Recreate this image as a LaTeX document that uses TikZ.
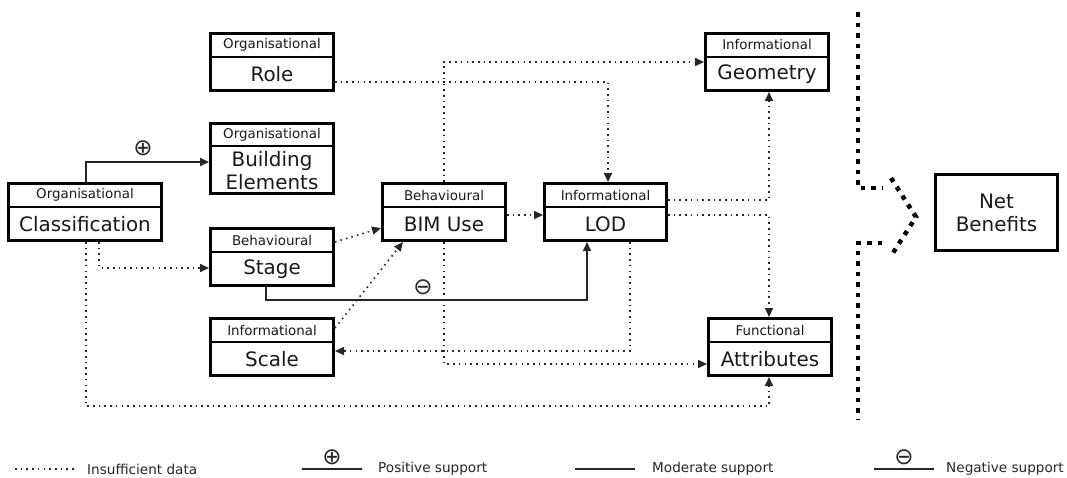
\documentclass[tikz,border=0pt]{standalone}
\usepackage{fontspec}
\setmainfont{DejaVu Sans}
\usetikzlibrary{arrows.meta}
\tikzset{
  boxst/.style={draw, line width=3.2pt, inner sep=0pt, rectangle},
  divst/.style={line width=1.7pt},
  hdr/.style={font=\fontsize{13.4}{14}\selectfont, inner sep=0pt, text=black!90},
  mn/.style={font=\fontsize{19.9}{22}\selectfont, inner sep=0pt, text=black!90, align=center},
  dotline/.style={line width=1.6pt, dash pattern=on 1.6pt off 4.1pt, black!85},
  dotarr/.style={dotline, -{Triangle[length=9pt,width=8pt]}},
  solidline/.style={line width=1.6pt, black!85},
  solidarr/.style={solidline, -{Triangle[length=9pt,width=8pt]}},
  sepline/.style={line width=4.5pt, dash pattern=on 4.5pt off 6pt},
  sym/.style={font=\fontsize{23}{23}\selectfont, inner sep=0pt, text=black!85},
  leg/.style={font=\fontsize{13.6}{14}\selectfont, inner sep=0pt, anchor=west, text=black!85},
}
\newcommand{\mybox}[8]{%
  \node[boxst, minimum width={#4-#2-3.2}, minimum height={#5-#3-3.2}] (#1) at ({(#2+#4)/2},{(#3+#5)/2}) {};
  \draw[divst] (#2+1.5,#6) -- (#4-1.5,#6);
  \node[hdr] (#1h) at ({(#2+#4)/2},{(#3+#6)/2+0.5}) {#7};
  \node[mn] (#1m) at ({(#2+#4)/2},{(#6+#5)/2}) {#8};
}
\begin{document}
\begin{tikzpicture}[x=1pt,y=-1pt]
\useasboundingbox (0,0) rectangle (1067,477);
% boxes
\mybox{role}{209}{32}{335}{92}{57}{Organisational}{Role}
\node[boxst, minimum width=122.8, minimum height=69.8] (be) at (272,158.5) {};
\draw[divst] (210.5,146) -- (333.5,146);
\node[hdr] (beh) at (272,134.5) {Organisational};
\node[mn, font=\fontsize{19.9}{23}\selectfont] (bem) at (272,171) {Building\\Elements};
\mybox{cls}{7}{182}{163}{242}{207}{Organisational}{Classification}
\mybox{stage}{209}{227}{335}{287}{252}{Behavioural}{Stage}
\mybox{scale}{209}{317}{335}{377}{342}{Informational}{Scale}
\mybox{bim}{381}{182}{507}{242}{207}{Behavioural}{BIM Use}
\mybox{lod}{543}{182}{668}{242}{207}{Informational}{LOD}
\mybox{geo}{704}{32}{830}{92}{57}{Informational}{Geometry}
\mybox{attr}{707}{317}{833}{377}{342}{Functional}{Attributes}
\node[boxst, minimum width=121.8, minimum height=75.8, mn, font=\fontsize{19.9}{23}\selectfont] (net) at (996.5,212.5) {Net\\Benefits};

% connectors
\draw[solidarr] ([xshift=1pt]cls.north) |- ([yshift=-3.5pt]be.west);
\node[sym] (plus) at (143,148) {⊕};
\draw[dotarr] ([yshift=-20pt]role.east) -| ([xshift=2.5pt]lod.north);
\draw[dotarr] (bim.north) |- (geo.west);
\draw[dotarr] ([yshift=15pt]stage.east) -- ([yshift=-16pt]bim.west);
\draw[dotarr] ([yshift=19pt]scale.east) -- ([xshift=-41pt]bim.south);
\draw[dotarr] ([yshift=-3pt]bim.east) -- ([yshift=-3pt]lod.west);
\draw[solidarr] ([xshift=-6pt]stage.south) -- ++(0,13) -| ([xshift=-18.5pt]lod.south);
\node[sym] (minus) at (423,287) {⊖};
\draw[dotarr] ([xshift=24.5pt]lod.south) |- ([yshift=-4pt]scale.east);
\draw[dotarr] (bim.south) |- ([yshift=-17pt]attr.west);
\draw[dotarr] ([xshift=14pt]cls.south) |- ([yshift=-11pt]stage.west);
\draw[dotarr] ([xshift=1pt]cls.south) -- ++(0,164) -| ([xshift=-1pt]attr.south);
\draw[dotarr] ([yshift=12pt]lod.east) -| ([xshift=2pt]geo.south);
\draw[dotarr] ([yshift=-3pt]lod.east) -| ([xshift=-1pt]attr.north);

% separator
\draw[sepline] (858,12) -- (858,188) -- (882,188);
\draw[sepline] (891,178) -- (916,217) -- (891,256);
\draw[sepline] (882,243) -- (858,243) -- (858,420);

% legend
\coordinate (l1a) at (15,469); \coordinate (l1b) at (77,469);
\draw[dotline] (l1a) -- (l1b);
\node[leg] (t1) at (87,469) {Insufficient data};
\coordinate (l2a) at (302,469); \coordinate (l2b) at (362,469);
\draw[solidline] (l2a) -- (l2b);
\node[sym] (p2) at (332,457) {⊕};
\node[leg] (t2) at (378,469) {Positive support};
\coordinate (l3a) at (575,469); \coordinate (l3b) at (635,469);
\draw[solidline] (l3a) -- (l3b);
\node[leg] (t3) at (652,469) {Moderate support};
\coordinate (l4a) at (874,469); \coordinate (l4b) at (934,469);
\draw[solidline] (l4a) -- (l4b);
\node[sym] (p4) at (904,457) {⊖};
\node[leg] (t4) at (946,469) {Negative support};
\end{tikzpicture}
\end{document}
